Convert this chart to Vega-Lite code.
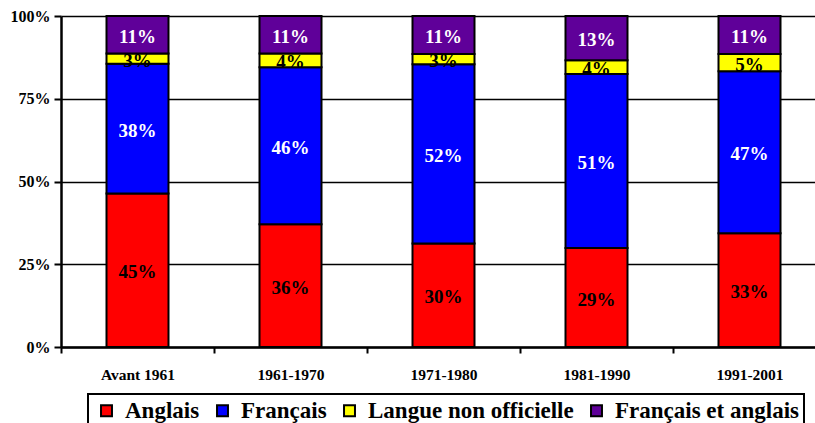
{
  "$schema": "https://vega.github.io/schema/vega-lite/v6.json",
  "width": 765,
  "height": 331,
  "autosize": {"type": "none"},
  "padding": {"left": 61, "top": 16, "right": 0, "bottom": 76},
  "background": "white",
  "config": {
    "view": {"stroke": null},
    "font": "Times New Roman, Liberation Serif, serif",
    "legend": {"labelFont": "Times New Roman, Liberation Serif, serif", "labelFontWeight": "bold"}
  },
  "data": {"values": [
    {"periode": "Avant 1961", "langue": "Anglais", "ordre": 1, "valeur": 45},
    {"periode": "Avant 1961", "langue": "Français", "ordre": 2, "valeur": 38},
    {"periode": "Avant 1961", "langue": "Langue non officielle", "ordre": 3, "valeur": 3},
    {"periode": "Avant 1961", "langue": "Français et anglais", "ordre": 4, "valeur": 11},
    {"periode": "1961-1970", "langue": "Anglais", "ordre": 1, "valeur": 36},
    {"periode": "1961-1970", "langue": "Français", "ordre": 2, "valeur": 46},
    {"periode": "1961-1970", "langue": "Langue non officielle", "ordre": 3, "valeur": 4},
    {"periode": "1961-1970", "langue": "Français et anglais", "ordre": 4, "valeur": 11},
    {"periode": "1971-1980", "langue": "Anglais", "ordre": 1, "valeur": 30},
    {"periode": "1971-1980", "langue": "Français", "ordre": 2, "valeur": 52},
    {"periode": "1971-1980", "langue": "Langue non officielle", "ordre": 3, "valeur": 3},
    {"periode": "1971-1980", "langue": "Français et anglais", "ordre": 4, "valeur": 11},
    {"periode": "1981-1990", "langue": "Anglais", "ordre": 1, "valeur": 29},
    {"periode": "1981-1990", "langue": "Français", "ordre": 2, "valeur": 51},
    {"periode": "1981-1990", "langue": "Langue non officielle", "ordre": 3, "valeur": 4},
    {"periode": "1981-1990", "langue": "Français et anglais", "ordre": 4, "valeur": 13},
    {"periode": "1991-2001", "langue": "Anglais", "ordre": 1, "valeur": 33},
    {"periode": "1991-2001", "langue": "Français", "ordre": 2, "valeur": 47},
    {"periode": "1991-2001", "langue": "Langue non officielle", "ordre": 3, "valeur": 5},
    {"periode": "1991-2001", "langue": "Français et anglais", "ordre": 4, "valeur": 11}
  ]},
  "transform": [
    {"stack": "valeur", "groupby": ["periode"], "sort": [{"field": "ordre", "order": "ascending"}], "offset": "normalize", "as": ["bas", "haut"]},
    {"calculate": "(datum.bas + datum.haut) / 2", "as": "milieu"},
    {"calculate": "datum.valeur + '%'", "as": "etiquette"}
  ],
  "encoding": {
    "x": {
      "field": "periode", "type": "nominal", "sort": null,
      "scale": {"paddingInner": 0, "paddingOuter": 0},
      "axis": {
        "title": null, "labelAngle": 0, "labelFont": "Times New Roman, Liberation Serif, serif", "labelFontWeight": "bold",
        "labelFontSize": 15.5, "labelColor": "black", "labelPadding": 14,
        "tickBand": "extent", "tickColor": "black", "tickWidth": 2, "tickSize": 6,
        "domainColor": "black", "domainWidth": 2.5
      }
    }
  },
  "layer": [
    {
      "mark": {"type": "bar", "size": 62, "stroke": "black", "strokeWidth": 2},
      "encoding": {
        "y": {
          "field": "bas", "type": "quantitative",
          "scale": {"domain": [0, 1]},
          "axis": {
            "title": null, "format": ".0%", "values": [0, 0.25, 0.5, 0.75, 1],
            "labelFont": "Times New Roman, Liberation Serif, serif", "labelFontWeight": "bold", "labelFontSize": 16, "labelColor": "black",
            "grid": true, "gridColor": "black", "gridWidth": 1.5, "gridOpacity": 1,
            "tickColor": "black", "tickWidth": 2, "tickSize": 7, "labelPadding": 4,
            "domainColor": "black", "domainWidth": 2.5
          }
        },
        "y2": {"field": "haut"},
        "color": {
          "field": "langue", "type": "nominal",
          "scale": {
            "domain": ["Anglais", "Français", "Langue non officielle", "Français et anglais"],
            "range": ["#FF0000", "#0000FF", "#FFFF00", "#5F0099"]
          },
          "legend": {
            "title": null, "orient": "none", "direction": "horizontal",
            "legendX": 27, "legendY": 378,
            "symbolType": "square", "symbolSize": 120, "symbolStrokeColor": "black", "symbolStrokeWidth": 2,
            "labelFont": "Times New Roman, Liberation Serif, serif", "labelFontWeight": "bold", "labelFontSize": 23, "labelColor": "black",
            "labelOffset": 7, "columnPadding": 9, "symbolOffset": 2,
            "strokeColor": "black", "padding": 5, "fillColor": "white",
            "labelLimit": 400,
            "encode": {
              "legend": {"update": {"strokeWidth": {"value": 2}}}
            }
          }
        }
      }
    },
    {
      "mark": {"type": "text", "font": "Times New Roman, Liberation Serif, serif", "fontWeight": "bold", "fontSize": 19, "baseline": "middle", "dy": 2},
      "encoding": {
        "y": {"field": "milieu", "type": "quantitative"},
        "text": {"field": "etiquette", "type": "nominal"},
        "color": {
          "condition": {"test": "datum.langue === 'Français' || datum.langue === 'Français et anglais'", "value": "white"},
          "value": "black"
        }
      }
    }
  ]
}
